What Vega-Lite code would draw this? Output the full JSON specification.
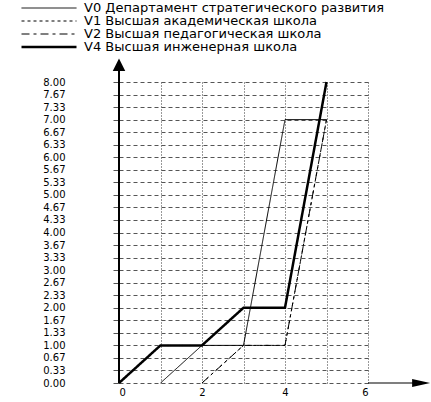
{
  "$schema": "https://vega.github.io/schema/vega-lite/v6.json",
  "autosize": "none",
  "width": 249,
  "height": 301,
  "padding": {"left": 119, "top": 82, "right": 63, "bottom": 19},
  "background": "white",
  "config": {"view": {"stroke": null}, "font": "DejaVu Sans"},
  "datasets": {
    "lines": [
      {"series": "V0 Департамент стратегического развития", "x": 1, "y": 0},
      {"series": "V0 Департамент стратегического развития", "x": 2, "y": 1},
      {"series": "V0 Департамент стратегического развития", "x": 3, "y": 1},
      {"series": "V0 Департамент стратегического развития", "x": 4, "y": 7},
      {"series": "V0 Департамент стратегического развития", "x": 5, "y": 7},
      {"series": "V1 Высшая академическая школа", "x": 2, "y": 0},
      {"series": "V1 Высшая академическая школа", "x": 3, "y": 1},
      {"series": "V1 Высшая академическая школа", "x": 4, "y": 1},
      {"series": "V1 Высшая академическая школа", "x": 5, "y": 7},
      {"series": "V2 Высшая педагогическая школа", "x": 2, "y": 0},
      {"series": "V2 Высшая педагогическая школа", "x": 3, "y": 1},
      {"series": "V2 Высшая педагогическая школа", "x": 4, "y": 1},
      {"series": "V2 Высшая педагогическая школа", "x": 5, "y": 7},
      {"series": "V4 Высшая инженерная школа", "x": 0, "y": 0},
      {"series": "V4 Высшая инженерная школа", "x": 1, "y": 1},
      {"series": "V4 Высшая инженерная школа", "x": 2, "y": 1},
      {"series": "V4 Высшая инженерная школа", "x": 3, "y": 2},
      {"series": "V4 Высшая инженерная школа", "x": 4, "y": 2},
      {"series": "V4 Высшая инженерная школа", "x": 5, "y": 8}
    ],
    "yaxis": [{"x": 0, "y": 0, "y2": 8.5}],
    "xaxis": [{"x": 6, "x2": 7.3, "y": 0}],
    "yarrow": [{"x": 0, "y": 8.46}],
    "xarrow": [{"x": 7.28, "y": 0}]
  },
  "layer": [
    {
      "data": {"name": "lines"},
      "mark": {"type": "line", "color": "#000", "strokeCap": "butt"},
      "encoding": {
        "x": {
          "field": "x", "type": "quantitative",
          "scale": {"domain": [0, 6], "nice": false, "zero": false},
          "axis": {
            "title": null,
            "values": [0, 1, 2, 3, 4, 5, 6],
            "tickCount": 20,
            "format": "d",
            "labelExpr": "datum.value % 2 == 0 ? datum.label : ''",
            "labelOverlap": false,
            "domain": false,
            "ticks": false,
            "labelPadding": 4,
            "labelFontSize": 10,
            "labelColor": "#000",
            "labelFont": "DejaVu Sans",
            "grid": true,
            "gridDash": [1, 2],
            "gridColor": "#333",
            "gridOpacity": 1,
            "gridWidth": 1
          }
        },
        "y": {
          "field": "y", "type": "quantitative",
          "scale": {"domain": [0, 8], "nice": false, "zero": false},
          "axis": {
            "title": null,
            "values": [0, 0.3333333, 0.6666667, 1, 1.3333333, 1.6666667, 2, 2.3333333, 2.6666667, 3, 3.3333333, 3.6666667, 4, 4.3333333, 4.6666667, 5, 5.3333333, 5.6666667, 6, 6.3333333, 6.6666667, 7, 7.3333333, 7.6666667, 8],
            "tickCount": 40,
            "format": ".2f",
            "labelOverlap": false,
            "domain": false,
            "tickSize": 6,
            "tickColor": "#555",
            "tickWidth": 1,
            "labelPadding": 48,
            "labelFontSize": 10,
            "labelColor": "#000",
            "labelFont": "DejaVu Sans",
            "grid": true,
            "gridDash": [4, 3],
            "gridColor": "#555",
            "gridOpacity": 1,
            "gridWidth": 1
          }
        },
        "strokeDash": {
          "field": "series", "type": "nominal",
          "scale": {
            "domain": ["V0 Департамент стратегического развития", "V1 Высшая академическая школа", "V2 Высшая педагогическая школа", "V4 Высшая инженерная школа"],
            "range": [[1, 0], [3, 3], [8, 4, 3, 4], [1, 0]]
          },
          "legend": {
            "title": null,
            "orient": "none",
            "legendX": -99,
            "legendY": -79.5,
            "symbolType": "stroke",
            "symbolSize": 3025,
            "symbolStrokeColor": "#000",
            "clipHeight": 11,
            "rowPadding": -4.5,
            "padding": 0,
            "labelOffset": 6,
            "labelFont": "DejaVu Sans",
            "labelFontSize": 13,
            "labelColor": "#000",
            "labelLimit": 400
          }
        },
        "strokeWidth": {
          "field": "series", "type": "nominal",
          "scale": {
            "type": "ordinal",
            "domain": ["V0 Департамент стратегического развития", "V1 Высшая академическая школа", "V2 Высшая педагогическая школа", "V4 Высшая инженерная школа"],
            "range": [1, 1, 1, 2.5]
          },
          "legend": {
            "title": null,
            "orient": "none",
            "legendX": -99,
            "legendY": -79.5,
            "symbolType": "stroke",
            "symbolSize": 3025,
            "symbolStrokeColor": "#000",
            "clipHeight": 11,
            "rowPadding": -4.5,
            "padding": 0,
            "labelOffset": 6,
            "labelFont": "DejaVu Sans",
            "labelFontSize": 13,
            "labelColor": "#000",
            "labelLimit": 400
          }
        }
      }
    },
    {
      "data": {"name": "yaxis"},
      "mark": {"type": "rule", "color": "#000", "strokeWidth": 2},
      "encoding": {
        "x": {"field": "x", "type": "quantitative"},
        "y": {"field": "y", "type": "quantitative"},
        "y2": {"field": "y2"}
      }
    },
    {
      "data": {"name": "xaxis"},
      "mark": {"type": "rule", "color": "#000", "strokeWidth": 1.2},
      "encoding": {
        "x": {"field": "x", "type": "quantitative"},
        "x2": {"field": "x2"},
        "y": {"field": "y", "type": "quantitative"}
      }
    },
    {
      "data": {"name": "yarrow"},
      "mark": {"type": "point", "shape": "M0,-1L1,1L-1,1Z", "size": 156, "filled": true, "color": "#000", "opacity": 1},
      "encoding": {
        "x": {"field": "x", "type": "quantitative"},
        "y": {"field": "y", "type": "quantitative"}
      }
    },
    {
      "data": {"name": "xarrow"},
      "mark": {"type": "point", "shape": "M1,0L-1,-0.45L-1,0.45Z", "size": 324, "filled": true, "color": "#000", "opacity": 1},
      "encoding": {
        "x": {"field": "x", "type": "quantitative"},
        "y": {"field": "y", "type": "quantitative"}
      }
    }
  ]
}
